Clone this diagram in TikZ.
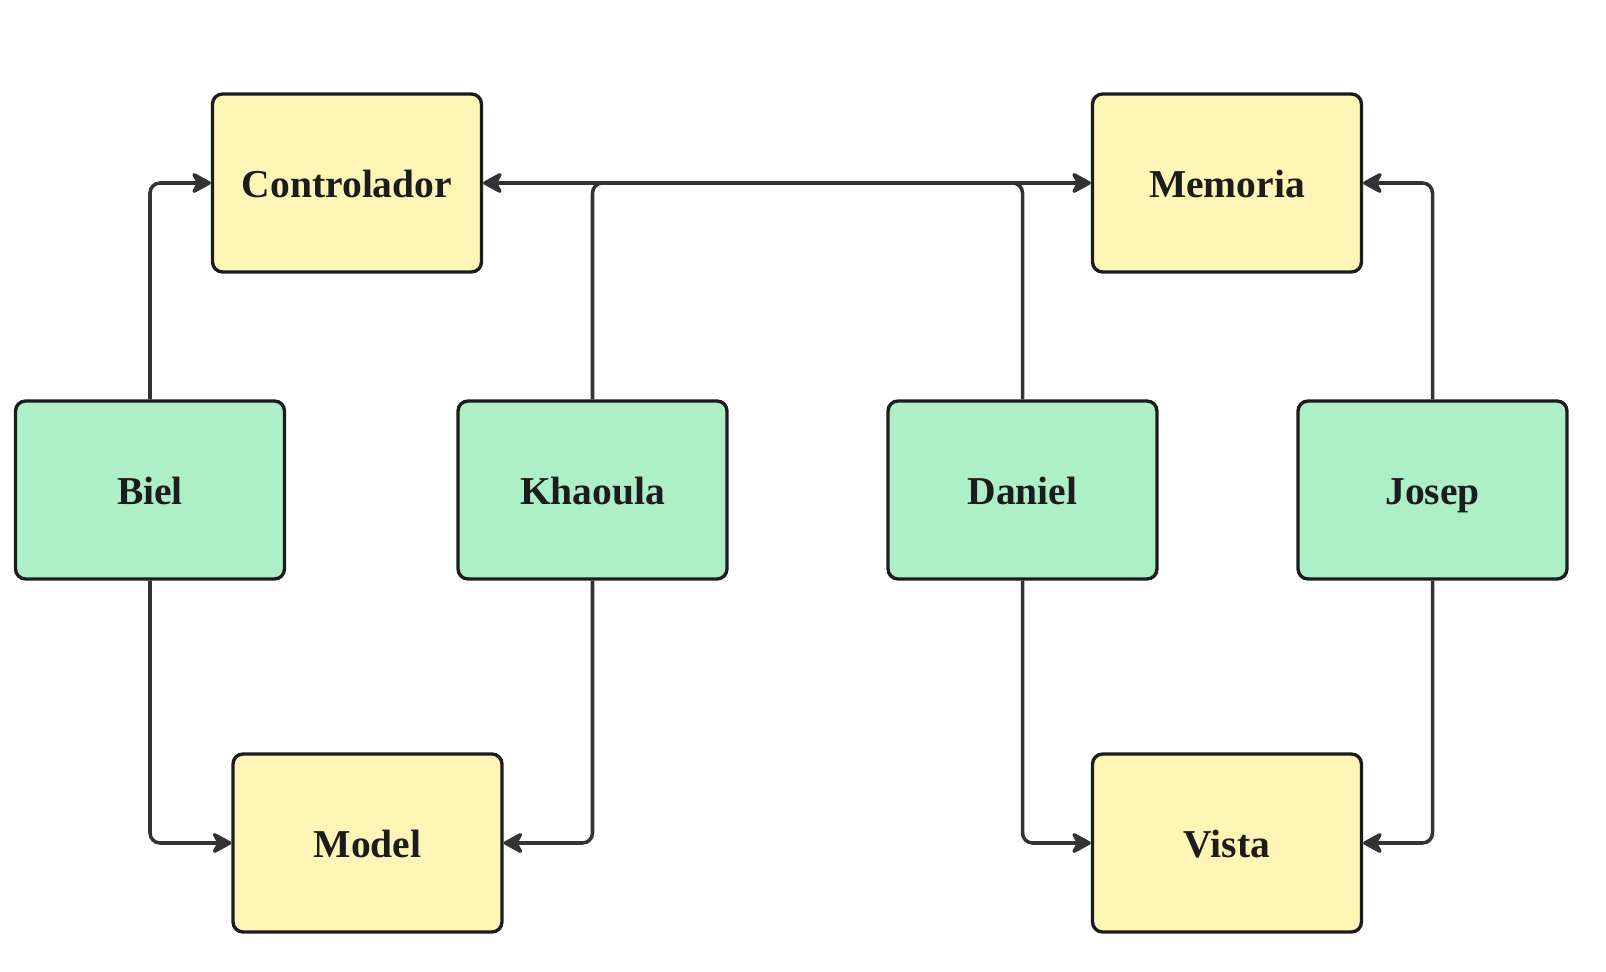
\documentclass[tikz,border=0pt]{standalone}
\usepackage{fontspec}
\setmainfont{Liberation Serif}
\usetikzlibrary{arrows.meta}
\definecolor{partfill}{RGB}{255,245,183}
\definecolor{whofill}{RGB}{173,240,199}
\definecolor{edgegray}{RGB}{51,51,51}
\definecolor{inkblack}{RGB}{28,28,28}
\begin{document}
\begin{tikzpicture}[x=0.02cm, y=-0.02cm,
    box/.style={draw=inkblack, line width=1.9pt, rounded corners=0.2cm,
        minimum width=5.38cm, minimum height=3.56cm, inner sep=0pt,
        text height=16pt, text depth=0pt,
        text=inkblack, font=\fontsize{22.5}{26}\selectfont\bfseries},
    part/.style={box, fill=partfill},
    who/.style={box, fill=whofill},
    wire/.style={draw=edgegray, line width=2pt, rounded corners=0.2cm,
        -{Stealth[length=0.46cm, width=0.5cm, inset=0.14cm, round]}}]

\useasboundingbox (0,0) rectangle (1606,972);

% parts of the project
\node[part] (ctrl) at (347,183) {Controlador};
\node[part] (mem) at (1227,183) {Memoria};
\node[part] (model) at (367.5,843) {Model};
\node[part] (vista) at (1227,843) {Vista};

% people
\node[who] (biel) at (150,490) {Biel};
\node[who] (khaoula) at (592.5,490) {Khaoula};
\node[who] (daniel) at (1022.5,490) {Daniel};
\node[who] (josep) at (1432.5,490) {Josep};

\draw[wire] (biel.north) |- (ctrl.west);
\draw[wire] (khaoula.north) |- (mem.west);
\draw[wire] (daniel.north) |- (ctrl.east);
\draw[wire] (josep.north) |- (mem.east);

\draw[wire] (biel.south) |- (model.west);
\draw[wire] (khaoula.south) |- (model.east);
\draw[wire] (daniel.south) |- (vista.west);
\draw[wire] (josep.south) |- (vista.east);

\end{tikzpicture}
\end{document}
